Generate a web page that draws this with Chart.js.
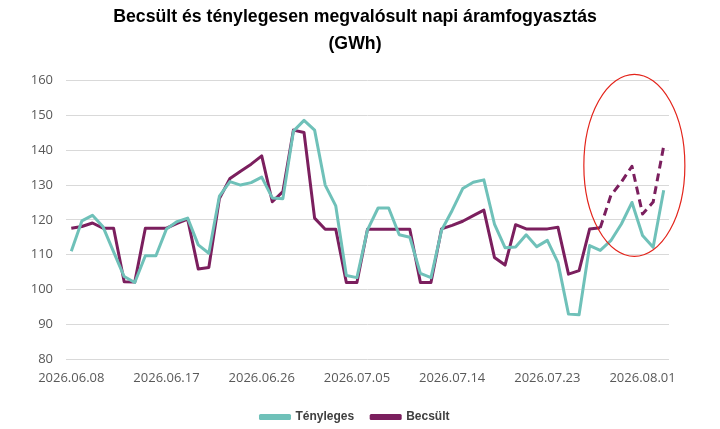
<!DOCTYPE html>
<html>
<head>
<meta charset="utf-8">
<script src="https://cdn.jsdelivr.net/npm/chart.js@4.4.1/dist/chart.umd.min.js"></script>
<style>
  html, body { margin: 0; padding: 0; background: #ffffff; }
  #wrap { width: 720px; height: 429px; position: relative; }
</style>
</head>
<body>
<div id="wrap"><canvas id="c" width="720" height="429"></canvas></div>
<script>
// ---- data ----
const dates = [
  '2026.06.08','2026.06.09','2026.06.10','2026.06.11','2026.06.12','2026.06.13','2026.06.14',
  '2026.06.15','2026.06.16','2026.06.17','2026.06.18','2026.06.19','2026.06.20','2026.06.21',
  '2026.06.22','2026.06.23','2026.06.24','2026.06.25','2026.06.26','2026.06.27','2026.06.28',
  '2026.06.29','2026.06.30','2026.07.01','2026.07.02','2026.07.03','2026.07.04','2026.07.05',
  '2026.07.06','2026.07.07','2026.07.08','2026.07.09','2026.07.10','2026.07.11','2026.07.12',
  '2026.07.13','2026.07.14','2026.07.15','2026.07.16','2026.07.17','2026.07.18','2026.07.19',
  '2026.07.20','2026.07.21','2026.07.22','2026.07.23','2026.07.24','2026.07.25','2026.07.26',
  '2026.07.27','2026.07.28','2026.07.29','2026.07.30','2026.07.31','2026.08.01','2026.08.02',
  '2026.08.03'
];
const shownTickLabels = ['2026.06.08','2026.06.17','2026.06.26','2026.07.05','2026.07.14','2026.07.23','2026.08.01'];

const tenyleges = [
  111.0, 119.7, 121.3, 118.0, 110.8, 103.7, 102.0, 109.7, 109.7, 117.4,
  119.5, 120.5, 112.8, 110.4, 126.8, 131.0, 130.0, 130.7, 132.3, 126.3,
  126.1, 145.5, 148.6, 145.8, 130.0, 124.0, 104.0, 103.4, 117.1, 123.4,
  123.4, 115.7, 115.0, 104.6, 103.4, 117.0, 122.7, 129.0, 130.8, 131.5,
  118.8, 112.0, 112.2, 115.7, 112.3, 114.1, 107.8, 92.9, 92.7, 112.6,
  111.2, 114.0, 118.8, 125.0, 115.5, 112.1, 128.5
];
const becsult = [
  117.6, 118.1, 119.1, 117.6, 117.6, 102.2, 102.1, 117.6, 117.6, 117.6,
  119.0, 120.2, 105.9, 106.3, 126.1, 131.9, 134.0, 136.0, 138.4, 125.2,
  128.1, 145.8, 145.1, 120.5, 117.3, 117.3, 102.0, 102.0, 117.3, 117.3,
  117.3, 117.3, 117.3, 102.0, 102.0, 117.4, 118.4, 119.6, 121.2, 122.8,
  109.2, 107.0, 118.6, 117.4, 117.4, 117.4, 117.9, 104.4, 105.4, 117.4,
  117.7, 127.0, 130.9, 135.4, 121.7, 125.1, 141.2
];
// index from which the estimate is drawn dashed (forecast part)
const forecastStartIndex = 50;
// highlighted region (ellipse): [fromIndex, toIndex, minValue, maxValue]
const highlight = [48.45, 58.0, 109.5, 161.8];

const yTicks = { min: 80, max: 160, step: 10 };

const cyan = '#6FC1B9';
const purple = '#7B1F5E';

// ellipse plugin
const ellipsePlugin = {
  id: 'ellipse',
  afterDatasetsDraw(chart) {
    const xs = chart.scales.x, ys = chart.scales.y;
    const x1 = xs.getPixelForValue(highlight[0]);
    const x2 = xs.getPixelForValue(highlight[1]);
    const y1 = ys.getPixelForValue(highlight[3]);
    const y2 = ys.getPixelForValue(highlight[2]);
    const ctx = chart.ctx;
    ctx.save();
    ctx.beginPath();
    ctx.ellipse((x1 + x2) / 2, (y1 + y2) / 2, Math.abs(x2 - x1) / 2, Math.abs(y2 - y1) / 2, 0, 0, Math.PI * 2);
    ctx.strokeStyle = '#E3241B';
    ctx.lineWidth = 1.2;
    ctx.stroke();
    ctx.restore();
  }
};

new Chart(document.getElementById('c'), {
  type: 'line',
  data: {
    labels: dates,
    datasets: [
      {
        label: 'Tényleges',
        data: tenyleges,
        borderColor: cyan,
        backgroundColor: cyan,
        borderWidth: 3,
        pointRadius: 0,
        tension: 0,
        borderJoinStyle: 'round'
      },
      {
        label: 'Becsült',
        data: becsult,
        borderColor: purple,
        backgroundColor: purple,
        borderWidth: 3,
        pointRadius: 0,
        tension: 0,
        borderJoinStyle: 'round',
        segment: {
          borderDash: ctx => ctx.p0DataIndex >= forecastStartIndex ? [8, 5] : undefined
        }
      }
    ]
  },
  options: {
    responsive: false,
    animation: false,
    devicePixelRatio: 1,
    layout: { padding: { left: 0, right: 10, top: 0, bottom: -4 } },
    plugins: {
      title: {
        display: true,
        text: ['Becsült és ténylegesen megvalósult napi áramfogyasztás', '(GWh)'],
        color: '#000000',
        font: { family: 'Liberation Sans', size: 17.7, weight: 'bold', lineHeight: 1.5 },
        padding: { top: 4, bottom: 23.6 }
      },
      legend: {
        display: true,
        position: 'bottom',
        labels: {
          boxWidth: 29,
          boxHeight: 3,
          padding: 17,
          color: '#404040',
          font: { family: 'Liberation Sans', size: 12, weight: 'bold' }
        }
      },
      tooltip: { enabled: false }
    },
    scales: {
      x: {
        type: 'category',
        offset: true,
        grid: { display: false, drawTicks: false },
        border: { display: false },
        ticks: {
          autoSkip: false,
          maxRotation: 0,
          minRotation: 0,
          padding: 11,
          color: '#595959',
          font: { family: 'Open Sans', size: 13 },
          callback: function (v, i) {
            const l = dates[i];
            return shownTickLabels.includes(l) ? l : '';
          }
        },
        afterFit: s => { s.height = 35; }
      },
      y: {
        min: yTicks.min,
        max: yTicks.max,
        grid: { color: '#d9d9d9', lineWidth: 1, drawTicks: false },
        border: { display: false },
        ticks: {
          stepSize: yTicks.step,
          padding: 13,
          color: '#595959',
          font: { family: 'Open Sans', size: 13 }
        },
        afterFit: s => { s.width = 66; }
      },
      yR: {
        type: 'linear',
        position: 'right',
        display: true,
        grid: { display: false, drawTicks: false },
        border: { display: false },
        ticks: { display: false },
        afterFit: s => { s.width = 41; }
      }
    }
  },
  plugins: [ellipsePlugin]
});
</script>
</body>
</html>
